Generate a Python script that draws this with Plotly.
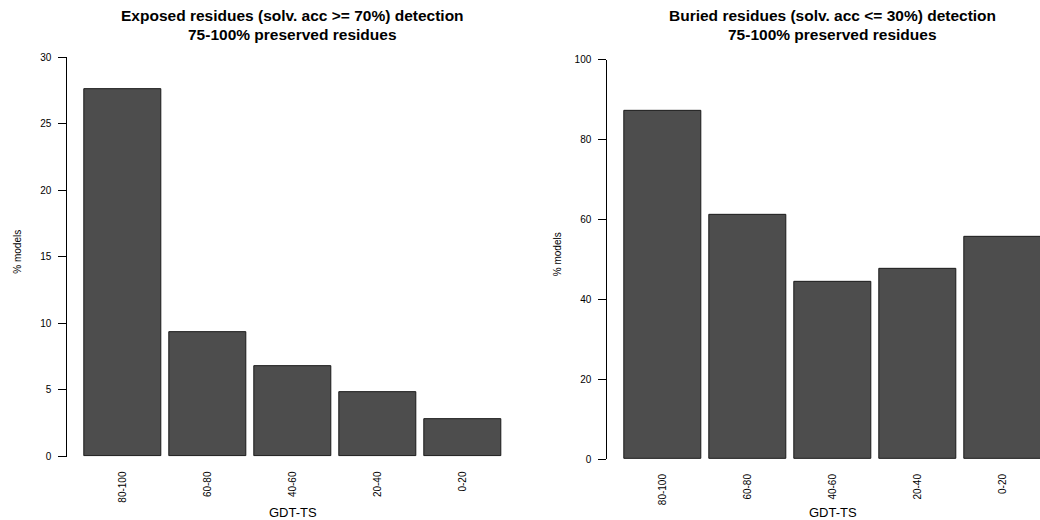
import plotly.graph_objects as go

# ---- data ----
categories = ["80-100", "60-80", "40-60", "20-40", "0-20"]
exposed_pct = [27.6, 9.34, 6.8, 4.83, 2.77]
buried_pct = [87.1, 61.1, 44.4, 47.6, 55.7]
exposed_yticks = [0, 5, 10, 15, 20, 25, 30]
buried_yticks = [0, 20, 40, 60, 80, 100]
titles = [
    ["Exposed residues (solv. acc >= 70%) detection", "75-100% preserved residues"],
    ["Buried residues (solv. acc <= 30%) detection", "75-100% preserved residues"],
]
x_title = "GDT-TS"
y_title = "% models"

# bar positions like R barplot(space=0.1)
space = 0.1
centers = [space + i * (1 + space) + 0.5 for i in range(len(categories))]

W, H = 1040, 520
FONT = "Liberation Sans, Arial, Helvetica, sans-serif"
BAR = "#4d4d4d"
EDGE = "#1a1a1a"

# vertical calibration of the photographed page (observed output mapping)
CAL_A, CAL_B = 0.978, 4.5


def px_x(p):
    return p / W


def px_y(p):
    return 1 - ((p - CAL_B) / CAL_A) / H


fig = go.Figure()
fig.add_trace(go.Bar(x=centers, y=exposed_pct, width=[1] * len(categories),
                     marker=dict(color=BAR, line=dict(color=EDGE, width=1)),
                     xaxis="x", yaxis="y", showlegend=False, hoverinfo="skip"))
fig.add_trace(go.Bar(x=centers, y=buried_pct, width=[1] * len(categories),
                     marker=dict(color=BAR, line=dict(color=EDGE, width=1)),
                     xaxis="x2", yaxis="y2", showlegend=False, hoverinfo="skip"))

xcommon = dict(showline=False, showgrid=False, zeroline=False, ticks="",
               tickvals=centers, ticktext=categories, tickangle=-90,
               tickfont=dict(family=FONT, size=10, color="#000"),
               ticklabelstandoff=12)
ycommon = dict(showline=True, linecolor="#000", linewidth=1, showgrid=False,
               zeroline=False, ticks="outside", ticklen=8, tickcolor="#000",
               tickwidth=1, tickfont=dict(family=FONT, size=10, color="#000"),
               ticklabelstandoff=5)

# left panel
L_ax, L_right, L_top, L_bot = 67.3, 518.0, 55.7, 455.5
# right panel
R_ax, R_right, R_top, R_bot = 607.3, 1040.0, 58.4, 458.0
ppu = 85 / 1.1
x0 = -0.116

fig.update_layout(
    width=W, height=H, margin=dict(l=0, r=0, t=0, b=0),
    paper_bgcolor="white", plot_bgcolor="white", bargap=0,
    xaxis=dict(domain=[px_x(L_ax), px_x(L_right)], anchor="y",
               range=[x0, x0 + (L_right - L_ax) / ppu], **xcommon),
    yaxis=dict(domain=[px_y(L_bot), px_y(L_top)], anchor="x",
               range=[0, 30], tickvals=exposed_yticks, **ycommon),
    xaxis2=dict(domain=[px_x(R_ax), px_x(R_right)], anchor="y2",
                range=[x0, x0 + (R_right - R_ax) / ppu], **xcommon),
    yaxis2=dict(domain=[px_y(R_bot), px_y(R_top)], anchor="x2",
                range=[0, 100], tickvals=buried_yticks, **ycommon),
)

anns = []
panel_centers = [292.7, 832.7]
for cx, (t1, t2) in zip(panel_centers, titles):
    anns.append(dict(text="<b>%s</b>" % t1, x=px_x(cx), y=px_y(14.0), xref="paper", yref="paper",
                     xanchor="center", yanchor="middle", showarrow=False,
                     font=dict(family=FONT, size=15.5, color="#000")))
    anns.append(dict(text="<b>%s</b>" % t2, x=px_x(cx), y=px_y(33.3), xref="paper", yref="paper",
                     xanchor="center", yanchor="middle", showarrow=False,
                     font=dict(family=FONT, size=15.5, color="#000")))
    anns.append(dict(text=x_title, x=px_x(cx), y=px_y(512.0), xref="paper", yref="paper",
                     xanchor="center", yanchor="middle", showarrow=False,
                     font=dict(family=FONT, size=13, color="#000")))
for cx, cy in [(17.5, 251), (557.5, 253.5)]:
    anns.append(dict(text=y_title, x=px_x(cx), y=px_y(cy), xref="paper", yref="paper",
                     xanchor="center", yanchor="middle", showarrow=False, textangle=-90,
                     font=dict(family=FONT, size=10, color="#000")))
fig.update_layout(annotations=anns)

post = (
    "document.documentElement.style.margin='0px';"
    "document.documentElement.style.overflow='hidden';"
    "document.body.style.margin='0px';"
    "document.body.style.overflow='hidden';"
    "var d=document.getElementById('{plot_id}');"
    "d.style.position='absolute';d.style.left='0px';d.style.top='0px';"
)
fig.write_html("out.html", config={"displayModeBar": False}, post_script=post)
